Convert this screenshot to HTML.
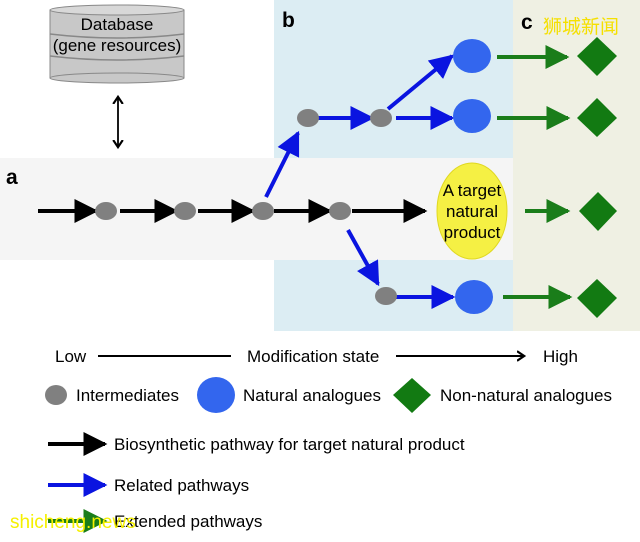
<!DOCTYPE html>
<html><head><meta charset="utf-8"><style>
body{margin:0;background:#fff}
svg text{font-family:"Liberation Sans","Noto Sans CJK SC",sans-serif}
</style></head><body>
<svg width="640" height="537" viewBox="0 0 640 537" xmlns="http://www.w3.org/2000/svg">
<defs>
<marker id="k" viewBox="0 0 10 10" refX="9" refY="5" markerWidth="6" markerHeight="6" markerUnits="strokeWidth" orient="auto"><path d="M0,0L10,5L0,10z" fill="#000"/></marker>
<marker id="bl" viewBox="0 0 10 10" refX="9" refY="5" markerWidth="6" markerHeight="6" markerUnits="strokeWidth" orient="auto"><path d="M0,0L10,5L0,10z" fill="#0a14e0"/></marker>
<marker id="g" viewBox="0 0 10 10" refX="9" refY="5" markerWidth="6" markerHeight="6" markerUnits="strokeWidth" orient="auto"><path d="M0,0L10,5L0,10z" fill="#1a7d1a"/></marker>
<marker id="t" viewBox="0 0 10 10" refX="5" refY="5" markerWidth="12" markerHeight="12" markerUnits="userSpaceOnUse" orient="auto-start-reverse"><path d="M0,1L6,5L0,9" fill="none" stroke="#000" stroke-width="1.8"/></marker>
</defs>
<rect x="274" y="0" width="240" height="331" fill="#dcedf3"/>
<rect x="513" y="0" width="127" height="331" fill="#eff0e3"/>
<rect x="0" y="158" width="513" height="102" fill="#f5f5f5"/>
<!-- database -->
<rect x="50" y="10" width="134" height="68" fill="#c8c8c8" stroke="#888"/>
<ellipse cx="117" cy="10" rx="67" ry="5" fill="#d8d8d8" stroke="#888"/>
<ellipse cx="117" cy="78" rx="67" ry="5" fill="#c8c8c8" stroke="#888"/>
<path d="M50,34 Q117,42 184,34 M50,56 Q117,64 184,56" fill="none" stroke="#888" stroke-width="1.5"/>
<text x="117" y="30" font-size="17" text-anchor="middle">Database</text>
<text x="117" y="51" font-size="17" text-anchor="middle">(gene resources)</text>
<line x1="118" y1="98" x2="118" y2="146" stroke="#000" stroke-width="1.8" marker-start="url(#t)" marker-end="url(#t)"/>
<text x="6" y="184" font-size="21" font-weight="bold">a</text>
<text x="282" y="27" font-size="21" font-weight="bold">b</text>
<text x="521" y="29" font-size="21" font-weight="bold">c</text>
<text x="543" y="33" font-size="19" fill="#f5e000" font-family="Noto Sans CJK SC">狮城新闻</text>
<!-- main path -->
<g stroke="#000" stroke-width="4" fill="none">
<line x1="38" y1="211" x2="96" y2="211" marker-end="url(#k)"/>
<line x1="120" y1="211" x2="176" y2="211" marker-end="url(#k)"/>
<line x1="198" y1="211" x2="253" y2="211" marker-end="url(#k)"/>
<line x1="274" y1="211" x2="330" y2="211" marker-end="url(#k)"/>
<line x1="352" y1="211" x2="425" y2="211" marker-end="url(#k)"/>
</g>
<g stroke="#0a14e0" stroke-width="4" fill="none">
<line x1="266" y1="197" x2="298" y2="133" marker-end="url(#bl)"/>
<line x1="318" y1="118" x2="372" y2="118" marker-end="url(#bl)"/>
<line x1="388" y1="109" x2="452" y2="56" marker-end="url(#bl)"/>
<line x1="396" y1="118" x2="452" y2="118" marker-end="url(#bl)"/>
<line x1="348" y1="230" x2="378" y2="284" marker-end="url(#bl)"/>
<line x1="396" y1="297" x2="453" y2="297" marker-end="url(#bl)"/>
</g>
<g stroke="#1a7d1a" stroke-width="4" fill="none">
<line x1="497" y1="57" x2="567" y2="57" marker-end="url(#g)"/>
<line x1="497" y1="118" x2="568" y2="118" marker-end="url(#g)"/>
<line x1="525" y1="211" x2="568" y2="211" marker-end="url(#g)"/>
<line x1="503" y1="297" x2="570" y2="297" marker-end="url(#g)"/>
</g>
<g fill="#808080">
<ellipse cx="106" cy="211" rx="11" ry="9"/><ellipse cx="185" cy="211" rx="11" ry="9"/>
<ellipse cx="263" cy="211" rx="11" ry="9"/><ellipse cx="340" cy="211" rx="11" ry="9"/>
<ellipse cx="308" cy="118" rx="11" ry="9"/><ellipse cx="381" cy="118" rx="11" ry="9"/>
<ellipse cx="386" cy="296" rx="11" ry="9"/>
</g>
<g fill="#3366ee">
<ellipse cx="472" cy="56" rx="19" ry="17"/><ellipse cx="472" cy="116" rx="19" ry="17"/>
<ellipse cx="474" cy="297" rx="19" ry="17"/>
</g>
<g fill="#127a12">
<path d="M597,37L617,56L597,76L577,56z"/><path d="M597,98L617,118L597,137L577,118z"/>
<path d="M598,192L617,211L598,231L579,211z"/><path d="M597,279L617,298L597,318L577,298z"/>
</g>
<ellipse cx="472" cy="211" rx="35" ry="48" fill="#f5f044" stroke="#e0d820"/>
<text x="472" y="196" font-size="17" text-anchor="middle">A target</text>
<text x="472" y="217" font-size="17" text-anchor="middle">natural</text>
<text x="472" y="238" font-size="17" text-anchor="middle">product</text>
<!-- legend -->
<text x="55" y="362" font-size="17">Low</text>
<line x1="98" y1="356" x2="231" y2="356" stroke="#000" stroke-width="2"/>
<text x="247" y="362" font-size="17">Modification state</text>
<line x1="396" y1="356" x2="523" y2="356" stroke="#000" stroke-width="2" marker-end="url(#t)"/>
<text x="543" y="362" font-size="17">High</text>
<ellipse cx="56" cy="395" rx="11" ry="10" fill="#808080"/>
<text x="76" y="401" font-size="17">Intermediates</text>
<ellipse cx="216" cy="395" rx="19" ry="18" fill="#3366ee"/>
<text x="243" y="401" font-size="17">Natural analogues</text>
<path d="M412,378L431,395L412,413L393,395z" fill="#127a12"/>
<text x="440" y="401" font-size="17">Non-natural analogues</text>
<line x1="48" y1="444" x2="105" y2="444" stroke="#000" stroke-width="4" marker-end="url(#k)"/>
<text x="114" y="450" font-size="17">Biosynthetic pathway for target natural product</text>
<line x1="48" y1="485" x2="105" y2="485" stroke="#0a14e0" stroke-width="4" marker-end="url(#bl)"/>
<text x="114" y="491" font-size="17">Related pathways</text>
<line x1="48" y1="521" x2="105" y2="521" stroke="#1a7d1a" stroke-width="4" marker-end="url(#g)"/>
<text x="114" y="527" font-size="17">Extended pathways</text>
<text x="10" y="528" font-size="19" fill="#f5f000">shicheng.news</text>
</svg>
</body></html>
